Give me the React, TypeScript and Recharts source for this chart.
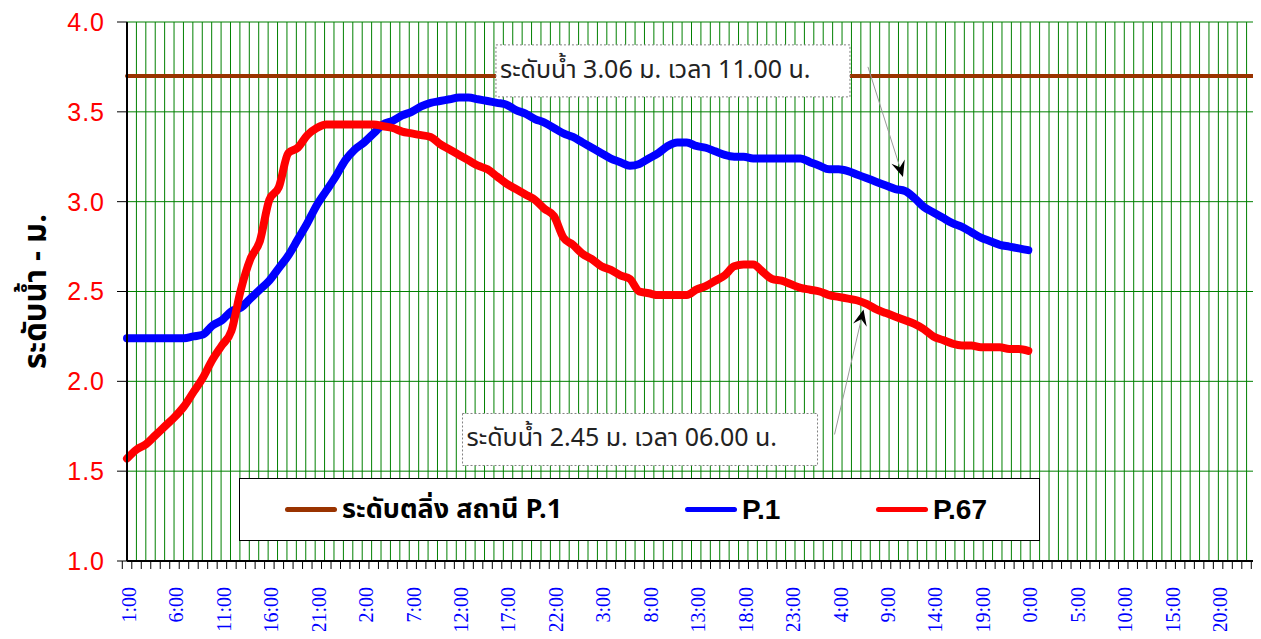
import React from 'react';
import {
  LineChart,
  Line,
  XAxis,
  YAxis,
  CartesianGrid,
  Legend,
  ReferenceDot,
} from 'recharts';

// hourly slots shown on the axis, one day cycle, repeated for 5 days
const DAY_HOURS = [
  '1:00', '2:00', '3:00', '4:00', '5:00', '6:00', '7:00', '8:00', '9:00', '10:00', '11:00', '12:00',
  '13:00', '14:00', '15:00', '16:00', '17:00', '18:00', '19:00', '20:00', '21:00', '22:00', '23:00', '0:00',
];
const DAYS = 5;

// bank level of station P.1 (m)
const BANK_LEVEL = 3.7;

// water level P.1 (m), hourly
const P1 = [
  2.24, 2.24, 2.24, 2.24, 2.24, 2.24, 2.24, 2.25, 2.26, 2.31, 2.34, 2.39,
  2.41, 2.46, 2.51, 2.56, 2.63, 2.70, 2.79, 2.88, 2.98, 3.06, 3.14, 3.23,
  3.29, 3.33, 3.38, 3.43, 3.45, 3.48, 3.50, 3.53, 3.55, 3.56, 3.57, 3.58,
  3.58, 3.57, 3.56, 3.55, 3.54, 3.51, 3.49, 3.46, 3.44, 3.41, 3.38, 3.36,
  3.33, 3.30, 3.27, 3.24, 3.22, 3.20, 3.21, 3.24, 3.27, 3.31, 3.33, 3.33,
  3.31, 3.30, 3.28, 3.26, 3.25, 3.25, 3.24, 3.24, 3.24, 3.24, 3.24, 3.24,
  3.22, 3.20, 3.18, 3.18, 3.17, 3.15, 3.13, 3.11, 3.09, 3.07, 3.06, 3.02,
  2.97, 2.94, 2.91, 2.88, 2.86, 2.83, 2.80, 2.78, 2.76, 2.75, 2.74, 2.73,
];

// water level P.67 (m), hourly
const P67 = [
  1.57, 1.62, 1.65, 1.70, 1.75, 1.80, 1.86, 1.94, 2.02, 2.12, 2.20, 2.28,
  2.51, 2.68, 2.78, 3.01, 3.08, 3.27, 3.30, 3.37, 3.41, 3.43, 3.43, 3.43,
  3.43, 3.43, 3.43, 3.42, 3.41, 3.39, 3.38, 3.37, 3.36, 3.32, 3.29, 3.26,
  3.23, 3.20, 3.18, 3.14, 3.10, 3.07, 3.04, 3.01, 2.96, 2.92, 2.80, 2.76,
  2.71, 2.68, 2.64, 2.62, 2.59, 2.57, 2.50, 2.49, 2.48, 2.48, 2.48, 2.48,
  2.51, 2.53, 2.56, 2.59, 2.64, 2.65, 2.65, 2.61, 2.57, 2.56, 2.54, 2.52,
  2.51, 2.50, 2.48, 2.47, 2.46, 2.45, 2.43, 2.40, 2.38, 2.36, 2.34, 2.32,
  2.29, 2.25, 2.23, 2.21, 2.20, 2.20, 2.19, 2.19, 2.19, 2.18, 2.18, 2.17,
];

const Y_TICKS = [1.0, 1.5, 2.0, 2.5, 3.0, 3.5, 4.0];
const Y_LABEL = 'ระดับน้ำ - ม.';
const SERIES_NAMES = { bank: 'ระดับตลิ่ง สถานี P.1', p1: 'P.1', p67: 'P.67' };

// callouts: index of the hour they point at, value and text
const NOTE_HIGH = { idx: 82, value: 3.06, text: 'ระดับน้ำ 3.06 ม. เวลา 11.00 น.' };
const NOTE_LOW = { idx: 77, value: 2.45, text: 'ระดับน้ำ 2.45 ม. เวลา 06.00 น.' };

const HOURS = Array.from({ length: DAYS }).flatMap(() => DAY_HOURS);

const data = HOURS.map((hour, i) => ({
  idx: i,
  hour,
  bank: BANK_LEVEL,
  p1: P1[i],
  p67: P67[i],
}));

const CHART_W = 1253;
const CHART_H = 631;
const MARGIN = { top: 14, right: 5, bottom: 0, left: 0 };
const Y_AXIS_W = 119;
const X_AXIS_H = 78;
const PLOT_W = CHART_W - MARGIN.left - MARGIN.right - Y_AXIS_W;
const STEP = PLOT_W / HOURS.length;

const GRID = '#008000';
const COLORS = { bank: '#993300', p1: '#0000FF', p67: '#FF0000' };
const SANS = "'Liberation Sans', Arial, sans-serif";
const THAI = "Tahoma, 'Leelawadee UI', 'Noto Sans Thai', 'Noto Sans', 'DejaVu Sans', sans-serif";

const HourTick = (props: any) => {
  const { x, y, payload } = props;
  const i = payload.index;
  const label = HOURS[payload.value];
  const lx = x + 2;
  const ly = y + 26;
  return (
    <g>
      <line x1={x - STEP / 2} x2={x - STEP / 2} y1={y} y2={y + 8} stroke="#000" />
      {i === HOURS.length - 1 && (
        <line x1={x + STEP / 2} x2={x + STEP / 2} y1={y} y2={y + 8} stroke="#000" />
      )}
      {i % 5 === 0 && (
        <text
          x={lx}
          y={ly}
          transform={`rotate(-90, ${lx}, ${ly})`}
          textAnchor="end"
          dominantBaseline="central"
          fill="#0000FF"
          fontFamily="'Liberation Serif', 'Times New Roman', serif"
          fontSize={20}
        >
          {label}
        </text>
      )}
    </g>
  );
};

// text box with a thin leader and a black arrow head pointing at the value
const Callout = (props: any) => {
  const { cx, cy, text, box, tip, tail } = props;
  if (cx == null || cy == null) return null;
  const tx = cx + tip[0];
  const ty = cy + tip[1];
  const sx = cx + tail[0];
  const sy = cy + tail[1];
  const len = Math.hypot(tx - sx, ty - sy);
  const ux = (tx - sx) / len;
  const uy = (ty - sy) / len;
  const nx = -uy;
  const ny = ux;
  const head = `M${tx},${ty} L${tx - ux * 16 + nx * 7},${ty - uy * 16 + ny * 7} L${tx - ux * 10},${ty - uy * 10} L${tx - ux * 16 - nx * 7},${ty - uy * 16 - ny * 7} Z`;
  return (
    <g>
      <line x1={sx} y1={sy} x2={tx - ux * 10} y2={ty - uy * 10} stroke="#9a9a9a" strokeWidth={1} />
      <path d={head} fill="#000" />
      <rect
        x={cx + box[0]}
        y={cy + box[1]}
        width={box[2]}
        height={box[3]}
        fill="#fff"
        stroke="#808080"
        strokeDasharray="2 2"
      />
      <text x={cx + box[0] + 4} y={cy + box[1] + 33} fontFamily={THAI} fontSize={25} fill="#222">
        {text}
      </text>
    </g>
  );
};

const LegendBox = () => {
  const items = [
    { key: 'bank', width: 400 },
    { key: 'p1', width: 191 },
    { key: 'p67', width: 160 },
  ];
  return (
    <div
      style={{
        boxSizing: 'border-box',
        width: '100%',
        height: '100%',
        background: '#fff',
        border: '1px solid #000',
        display: 'flex',
        alignItems: 'center',
        paddingLeft: 45,
      }}
    >
      {items.map((it) => (
        <div key={it.key} style={{ width: it.width, display: 'flex', alignItems: 'center' }}>
          <span
            style={{
              display: 'inline-block',
              width: 52,
              height: 5,
              borderRadius: 3,
              background: (COLORS as any)[it.key],
              marginRight: 5,
            }}
          />
          <span
            style={{
              fontFamily: it.key === 'bank' ? THAI : SANS,
              fontWeight: 'bold',
              fontSize: it.key === 'bank' ? 27 : 28,
              color: '#000',
              whiteSpace: 'nowrap',
            }}
          >
            {(SERIES_NAMES as any)[it.key]}
          </span>
        </div>
      ))}
    </div>
  );
};

export default function App() {
  return (
    <div style={{ width: CHART_W, height: CHART_H, marginBottom: -8 }}>
      <LineChart width={CHART_W} height={CHART_H} data={data} margin={MARGIN}>
        <CartesianGrid
          stroke={GRID}
          horizontal
          vertical
          verticalCoordinatesGenerator={({ offset }: any) =>
            Array.from({ length: HOURS.length + 1 }, (_, k) => offset.left + (k * offset.width) / HOURS.length)
          }
        />
        <XAxis
          dataKey="idx"
          type="category"
          interval={0}
          height={X_AXIS_H}
          tickSize={0}
          tickMargin={0}
          tickLine={false}
          axisLine={{ stroke: '#000', strokeWidth: 2 }}
          tick={<HourTick />}
        />
        <XAxis xAxisId="top" dataKey="idx" orientation="top" height={0} tick={false} tickLine={false} axisLine={{ stroke: '#000', strokeWidth: 2 }} />
        <YAxis
          domain={[1, 4]}
          ticks={Y_TICKS}
          width={Y_AXIS_W}
          tickSize={10}
          tickMargin={12}
          allowDataOverflow
          tickFormatter={(v: number) => v.toFixed(1)}
          tick={{ fill: '#FF0000', fontSize: 25, fontFamily: SANS, letterSpacing: 1 }}
          tickLine={{ stroke: '#000' }}
          axisLine={{ stroke: '#000', strokeWidth: 2 }}
          label={{
            content: ({ viewBox }: any) => {
              const x = viewBox.x + 28;
              const y = viewBox.y + viewBox.height / 2;
              return (
                <text
                  x={x}
                  y={y}
                  transform={`rotate(-90, ${x}, ${y})`}
                  textAnchor="middle"
                  dominantBaseline="central"
                  fontFamily={THAI}
                  fontWeight="bold"
                  fontSize={31}
                  fill="#000"
                >
                  {Y_LABEL}
                </text>
              );
            },
          }}
        />
        <YAxis yAxisId="right" orientation="right" domain={[1, 4]} width={0} tick={false} tickLine={false} axisLine={{ stroke: '#000', strokeWidth: 2 }} />
        <Line dataKey="bank" name={SERIES_NAMES.bank} type="linear" stroke={COLORS.bank} strokeWidth={4} dot={false} strokeLinecap="round" isAnimationActive={false} />
        <Line dataKey="p1" name={SERIES_NAMES.p1} type="monotone" stroke={COLORS.p1} strokeWidth={8} dot={false} strokeLinecap="round" strokeLinejoin="round" isAnimationActive={false} />
        <Line dataKey="p67" name={SERIES_NAMES.p67} type="monotone" stroke={COLORS.p67} strokeWidth={8} dot={false} strokeLinecap="round" strokeLinejoin="round" isAnimationActive={false} />
        <ReferenceDot
          x={NOTE_HIGH.idx}
          y={NOTE_HIGH.value}
          r={1}
          shape={(p: any) => (
            <Callout {...p} text={NOTE_HIGH.text} box={[-409, -146, 354, 52]} tip={[-2, -14]} tail={[-37, -124]} />
          )}
        />
        <ReferenceDot
          x={NOTE_LOW.idx}
          y={NOTE_LOW.value}
          r={1}
          shape={(p: any) => (
            <Callout {...p} text={NOTE_LOW.text} box={[-395, 113, 355, 52]} tip={[6, 9]} tail={[-23, 134]} />
          )}
        />
        <Legend
          layout="vertical"
          align="center"
          verticalAlign="middle"
          content={() => <LegendBox />}
          wrapperStyle={{ left: 231, top: 470, width: 801, height: 63 }}
        />
      </LineChart>
    </div>
  );
}
